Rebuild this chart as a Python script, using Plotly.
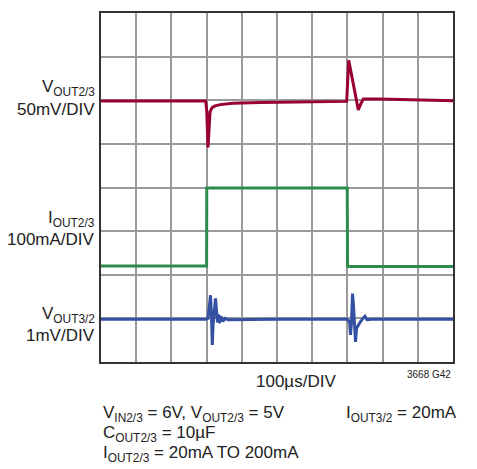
import plotly.graph_objects as go

# ---- data ----
# time axis: 100 µs/DIV, 10 divisions
red_t_us = [0, 297.4, 300.6, 304, 307.4, 309.9, 315.6, 324.1, 338.4, 375, 451.7, 565.3, 659.1,
            698, 703.7, 715.9, 731, 737.2, 745.2, 793.2, 906.3, 1000]
red_mv = [-0.8, -0.8, -13, -54, -30, -13, -8.4, -6.5, -5, -3.5, -2.7, -2.2, -1.6,
          -1.3, 45.9, 21, -11, -5, 1.5, 1.3, 0.3, -0.5]

green_t_us = [0, 300, 300.5, 699.5, 700.5, 1000]
green_ma = [20, 20, 199, 199, 19, 19]

blue_t_us = [0, 298.3, 304, 308.2, 311.1, 313.9, 316.2, 318.2, 322.4, 325.3, 328.1, 331, 333.8,
             336.6, 340.9, 346.6, 352.3, 360.8, 500, 698.9, 706, 708.8, 711.6, 714.5, 717.3,
             720.2, 723, 725.9, 730.1, 735.8, 744.3, 750, 755.7, 769.9, 1000]
blue_mv = [-0.02, -0.02, 0.0, 0.41, 0.53, 0.07, -0.61, -0.16, 0.30, 0.46, 0.18, -0.09, 0.09,
           -0.11, 0.05, -0.07, 0.0, -0.03, -0.02, -0.02, -0.07, -0.38, -0.09, 0.57, 0.30,
           -0.27, -0.54, -0.23, -0.16, -0.09, 0.0, 0.05, -0.03, -0.02, -0.02]

# scope settings: (ground division, units per division)
red_ground, red_scale = 6, 50.0      # 50mV/DIV
green_ground, green_scale = 2, 100.0  # 100mA/DIV
blue_ground, blue_scale = 1, 1.0      # 1mV/DIV

FONT = "Liberation Sans Narrow, Arial Narrow, Liberation Sans, Arial, sans-serif"
FS = 17

fig = go.Figure()
fig.add_trace(go.Scatter(x=red_t_us, y=[red_ground + v / red_scale for v in red_mv],
                         mode="lines", line=dict(color="#990030", width=3), hoverinfo="skip"))
fig.add_trace(go.Scatter(x=green_t_us, y=[green_ground + v / green_scale for v in green_ma],
                         mode="lines", line=dict(color="#2b8c4c", width=3), hoverinfo="skip"))
fig.add_trace(go.Scatter(x=blue_t_us, y=[blue_ground + v / blue_scale for v in blue_mv],
                         mode="lines", line=dict(color="#3350a3", width=3), hoverinfo="skip"))

grid = dict(showgrid=True, gridcolor="#9a9a9a", gridwidth=1.5, zeroline=False,
            showticklabels=False, ticks="", showline=True, linecolor="#333333",
            linewidth=2, mirror=True, fixedrange=True)
fig.update_xaxes(range=[0, 1000], dtick=100, tick0=0, **grid)
fig.update_yaxes(range=[0, 8], dtick=1, tick0=0, **grid)

ann = []
def side(text, y):
    ann.append(dict(text=text, xref="paper", yref="y", x=0, y=y, xanchor="right",
                    yanchor="middle", xshift=-4, showarrow=False,
                    font=dict(family=FONT, size=FS, color="#222")))

side("V<sub>OUT2/3</sub>", 6.28)
side("50mV/DIV", 5.79)
side("I<sub>OUT2/3</sub>", 3.28)
side("100mA/DIV", 2.8)
side("V<sub>OUT3/2</sub>", 1.07)
side("1mV/DIV", 0.6)

ann.append(dict(text="100µs/DIV", xref="paper", yref="paper", x=0.555, y=-0.055,
                xanchor="center", yanchor="middle", showarrow=False,
                font=dict(family=FONT, size=FS, color="#222")))
ann.append(dict(text="3668 G42", xref="paper", yref="paper", x=1.0, y=-0.035,
                xanchor="right", yanchor="middle", showarrow=False,
                font=dict(family=FONT, size=10, color="#222")))

bottom = [("V<sub>IN2/3</sub> = 6V, V<sub>OUT2/3</sub> = 5V", -0.15),
          ("C<sub>OUT2/3</sub> = 10µF", -0.207),
          ("I<sub>OUT2/3</sub> = 20mA TO 200mA", -0.264)]
for t, y in bottom:
    ann.append(dict(text=t, xref="paper", yref="paper", x=0, y=y, xanchor="left",
                    yanchor="middle", showarrow=False,
                    font=dict(family=FONT, size=FS, color="#222")))
ann.append(dict(text="I<sub>OUT3/2</sub> = 20mA", xref="paper", yref="paper", x=0.69, y=-0.15,
                xanchor="left", yanchor="middle", showarrow=False,
                font=dict(family=FONT, size=FS, color="#222")))

# page body has an 8px margin, so the figure is placed at (8, 8)
fig.update_layout(width=469, height=461, margin=dict(l=93, r=24, t=3, b=107),
                  paper_bgcolor="white", plot_bgcolor="white", showlegend=False,
                  annotations=ann)

fig.write_html("out.html")
